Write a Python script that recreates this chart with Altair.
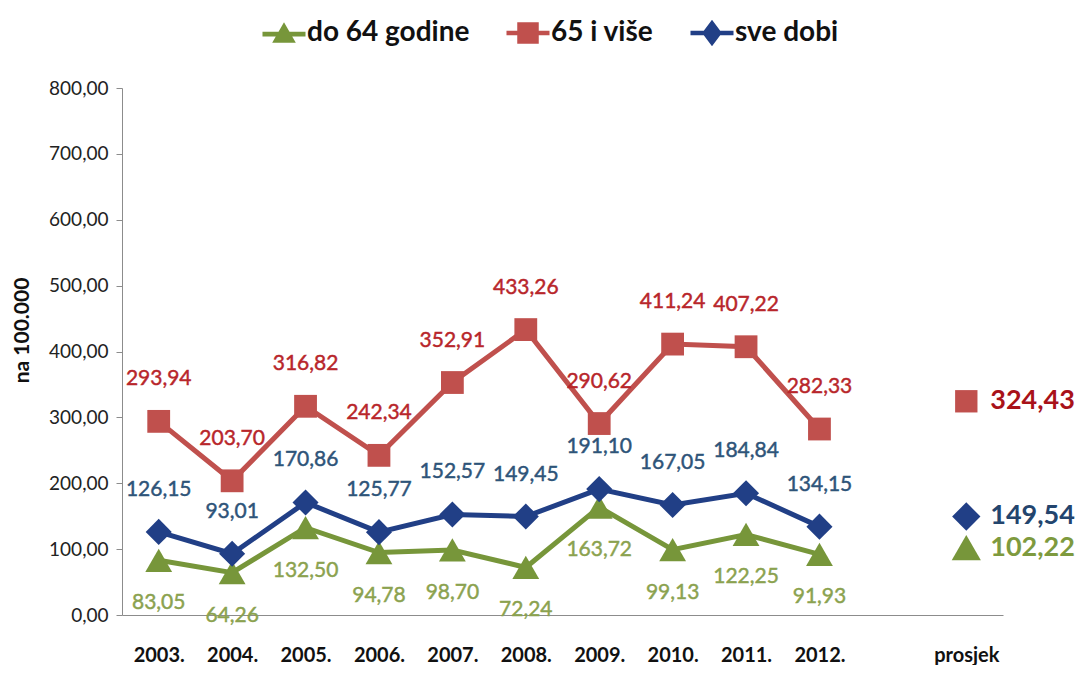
import altair as alt
import pandas as pd

years = ["2003.", "2004.", "2005.", "2006.", "2007.", "2008.", "2009.", "2010.", "2011.", "2012."]
categories = years + [" ", "prosjek"]
series_names = ["do 64 godine", "65 i više", "sve dobi"]

do64 = [83.05, 64.26, 132.50, 94.78, 98.70, 72.24, 163.72, 99.13, 122.25, 91.93]
s65 = [293.94, 203.70, 316.82, 242.34, 352.91, 433.26, 290.62, 411.24, 407.22, 282.33]
sve = [126.15, 93.01, 170.86, 125.77, 152.57, 149.45, 191.10, 167.05, 184.84, 134.15]
averages = [102.22, 324.43, 149.54]

line_colors = ["#77963A", "#C0504D", "#213F86"]
label_colors = ["#8BA24F", "#B8262B", "#2E5479"]
avg_label_colors = ["#7E9A3E", "#A8121A", "#23456E"]
shapes = ["triangle-up", "square", "diamond"]
# legend symbols: marker with a line segment through it
legend_shapes = [
    "M0,-0.5L0.55,0.45L-0.55,0.45Z M-1,-0.06L1,-0.06L1,0.16L-1,0.16Z",
    "M-0.5,-0.5L0.5,-0.5L0.5,0.5L-0.5,0.5Z M-1,-0.11L1,-0.11L1,0.11L-1,0.11Z",
    "M0,-0.62L0.46,0L0,0.62L-0.46,0Z M-1,-0.11L1,-0.11L1,0.11L-1,0.11Z",
]
marker_sizes = [720, 520, 680]
avg_marker_sizes = [850, 500, 800]

rows = []
for name, vals, lc, ms in zip(series_names, [do64, s65, sve], label_colors, marker_sizes):
    for y, v in zip(years, vals):
        rows.append({"year": y, "series": name, "value": v, "msize": ms,
                     "label": f"{v:.2f}".replace(".", ","), "lcolor": lc})
df = pd.DataFrame(rows)

avg_df = pd.DataFrame({
    "year": ["prosjek"] * 3,
    "series": series_names,
    "value": averages,
    "msize": avg_marker_sizes,
    "label": [f"{v:.2f}".replace(".", ",") for v in averages],
    "lcolor": avg_label_colors,
})

legend_df = pd.DataFrame({"year": ["prosjek"] * 3, "series": series_names,
                          "value": averages, "msize": [0, 0, 0]})

FONT = "Lato"

x_enc = alt.X("year:N", sort=categories,
              scale=alt.Scale(domain=categories, type="point", padding=0.5),
              axis=alt.Axis(title=None, labelAngle=0, ticks=False, domainColor="#8c8c8c",
                            labelFont=FONT, labelFontWeight="bold", labelFontSize=20,
                            labelColor="#111111", labelPadding=30))
y_enc = alt.Y("value:Q", scale=alt.Scale(domain=[0, 800], nice=False, zero=True),
              axis=alt.Axis(title="na 100.000", values=list(range(0, 801, 100)),
                            labelExpr="replace(format(datum.value, '.2f'), '.', ',')",
                            grid=False, tickSize=6, tickColor="#8c8c8c", domainColor="#8c8c8c",
                            labelFont=FONT, labelFontSize=19, labelColor="#222222", labelPadding=8,
                            titleFont=FONT, titleFontSize=21, titleFontWeight="bold",
                            titleColor="#111111", titleX=-90, titleY=242))

color_scale = alt.Scale(domain=series_names, range=line_colors)
shape_scale = alt.Scale(domain=series_names, range=shapes)
legend = alt.Legend(title=None, orient="none", direction="horizontal",
                    legendX=140, legendY=-77, labelFont=FONT,
                    labelFontWeight="bold", labelFontSize=28, labelLimit=400,
                    labelColor="#111111", symbolSize=1850,
                    columnPadding=36, labelOffset=1, symbolStrokeWidth=0)

base = alt.Chart(df)

lines = base.mark_line(strokeWidth=5).encode(
    x=x_enc, y=y_enc,
    color=alt.Color("series:N", scale=color_scale, sort=series_names, legend=None),
    detail="series:N",
)

points = base.mark_point(filled=True, opacity=1).encode(
    x=x_enc, y=y_enc,
    color=alt.Color("series:N", scale=color_scale, sort=series_names, legend=None),
    shape=alt.Shape("series:N", scale=shape_scale, sort=series_names, legend=None),
    size=alt.Size("msize:Q", scale=None),
)

labels_up = base.transform_filter(
    alt.datum.series != "do 64 godine"
).mark_text(font=FONT, fontSize=21, dy=-42, strokeWidth=0.45).encode(
    x=x_enc, y=y_enc, text="label:N",
    color=alt.Color("lcolor:N", scale=None),
    stroke=alt.Stroke("lcolor:N", scale=None),
)

labels_down = base.transform_filter(
    alt.datum.series == "do 64 godine"
).mark_text(font=FONT, fontSize=21, dy=43, strokeWidth=0.45).encode(
    x=x_enc, y=y_enc, text="label:N",
    color=alt.Color("lcolor:N", scale=None),
    stroke=alt.Stroke("lcolor:N", scale=None),
)

avg_base = alt.Chart(avg_df)
avg_points = avg_base.mark_point(filled=True, opacity=1).encode(
    x=x_enc, y=y_enc,
    color=alt.Color("series:N", scale=color_scale, sort=series_names, legend=None),
    shape=alt.Shape("series:N", scale=shape_scale, sort=series_names, legend=None),
    size=alt.Size("msize:Q", scale=None),
)
avg_labels = avg_base.mark_text(font=FONT, fontSize=27, fontWeight="bold", align="left",
                                dx=24).encode(
    x=x_enc, y=y_enc, text="label:N",
    color=alt.Color("lcolor:N", scale=None),
)

legend_layer = alt.Chart(legend_df).mark_point(filled=True, opacity=1).encode(
    x=x_enc, y=y_enc,
    color=alt.Color("series:N", scale=color_scale, sort=series_names, legend=legend),
    shape=alt.Shape("series:N", scale=alt.Scale(domain=series_names, range=legend_shapes),
                    sort=series_names, legend=legend),
    size=alt.Size("msize:Q", scale=None),
)

chart = alt.layer(lines, points, labels_up, labels_down, avg_points, avg_labels,
                  legend_layer).resolve_scale(
    color="independent", shape="independent"
).properties(
    width=881, height=527,
    autosize=alt.AutoSizeParams(type="none"),
    padding={"left": 114, "top": 80, "right": 78, "bottom": 50},
).configure_view(stroke=None)

chart.save("out.html", embed_options={"renderer": "svg", "actions": False})
